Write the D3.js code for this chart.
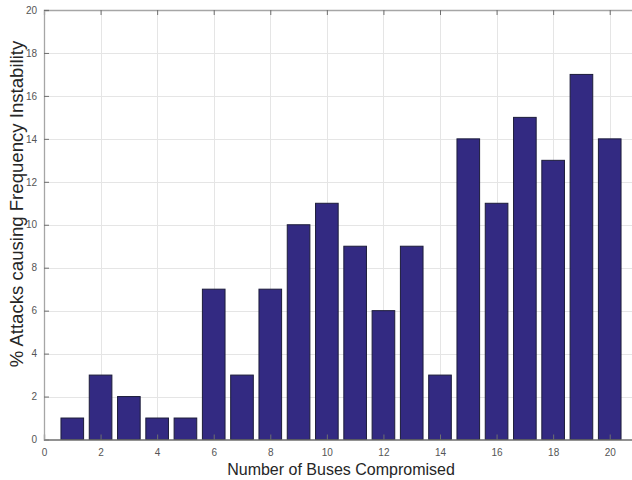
<!DOCTYPE html>
<html><head><meta charset="utf-8">
<script src="https://cdn.jsdelivr.net/npm/d3@7"></script>
<style>body{margin:0;background:#fff}svg{display:block}text{font-family:"Liberation Sans",Arial,sans-serif}</style>
</head><body><svg id="c" width="632" height="480"></svg>
<script>
const buses = [1,2,3,4,5,6,7,8,9,10,11,12,13,14,15,16,17,18,19,20];
const attackPct = [1,3,2,1,1,7,3,7,10,11,9,6,9,3,14,11,15,13,17,14];
const xTicks = [0,2,4,6,8,10,12,14,16,18,20];
const yTicks = [0,2,4,6,8,10,12,14,16,18,20];
const xLabel = "Number of Buses Compromised";
const yLabel = "% Attacks causing Frequency Instability";

const svg = d3.select("#c");
const L = 44, R = 638, T = 10, B = 439.5;
const x = d3.scaleLinear().domain([0,21]).range([L,R]);
const y = d3.scaleLinear().domain([0,20]).range([B,T]);
const axisCol = "#a6a6a6";

// grid
svg.append("g").selectAll("line").data(xTicks.slice(1)).join("line")
  .attr("x1",d=>Math.round(x(d))+0.5).attr("x2",d=>Math.round(x(d))+0.5)
  .attr("y1",T).attr("y2",B).attr("stroke","#e5e5e5").attr("stroke-width",1);
svg.append("g").selectAll("line").data(yTicks.slice(1)).join("line")
  .attr("y1",d=>Math.round(y(d))+0.5).attr("y2",d=>Math.round(y(d))+0.5)
  .attr("x1",L).attr("x2",R).attr("stroke","#e5e5e5").attr("stroke-width",1);

// bars
const bw = 0.8;
svg.append("g").selectAll("rect").data(buses).join("rect")
  .attr("x",(d)=>x(d-bw/2))
  .attr("width",(d)=>x(d+bw/2)-x(d-bw/2))
  .attr("y",(d,i)=>y(attackPct[i]))
  .attr("height",(d,i)=>y(0)-y(attackPct[i]))
  .attr("fill","#332a82").attr("stroke","#1c1c3a").attr("stroke-width",1);

// axes
const xb = svg.append("g").attr("transform",`translate(0,${B})`)
  .call(d3.axisBottom(x).tickValues(xTicks).tickSize(-5).tickPadding(9).tickFormat(d3.format("d")));
const xt = svg.append("g").attr("transform",`translate(0,${T})`)
  .call(d3.axisTop(x).tickValues(xTicks).tickSize(-5).tickFormat(""));
const yl = svg.append("g").attr("transform",`translate(${L},0)`)
  .call(d3.axisLeft(y).tickValues(yTicks).tickSize(-5).tickPadding(7).tickFormat(d3.format("d")));
[xb,xt,yl].forEach(g=>{
  g.select(".domain").attr("stroke",axisCol).attr("stroke-width",1.3);
  g.selectAll(".tick line").attr("stroke","#6f6f6f");
  g.selectAll("text").attr("fill","#555555").style("font-size","10px");
});
xb.select(".domain").attr("stroke","#6f6f6f");
xb.select(".tick line").remove();

svg.append("text").attr("x",341).attr("y",475).attr("text-anchor","middle")
  .attr("fill","#262626").style("font-size","16px").text(xLabel);
svg.append("text").attr("transform",`translate(23,204) rotate(-90)`).attr("text-anchor","middle")
  .attr("fill","#262626").style("font-size","18.6px").text(yLabel);
</script></body></html>
